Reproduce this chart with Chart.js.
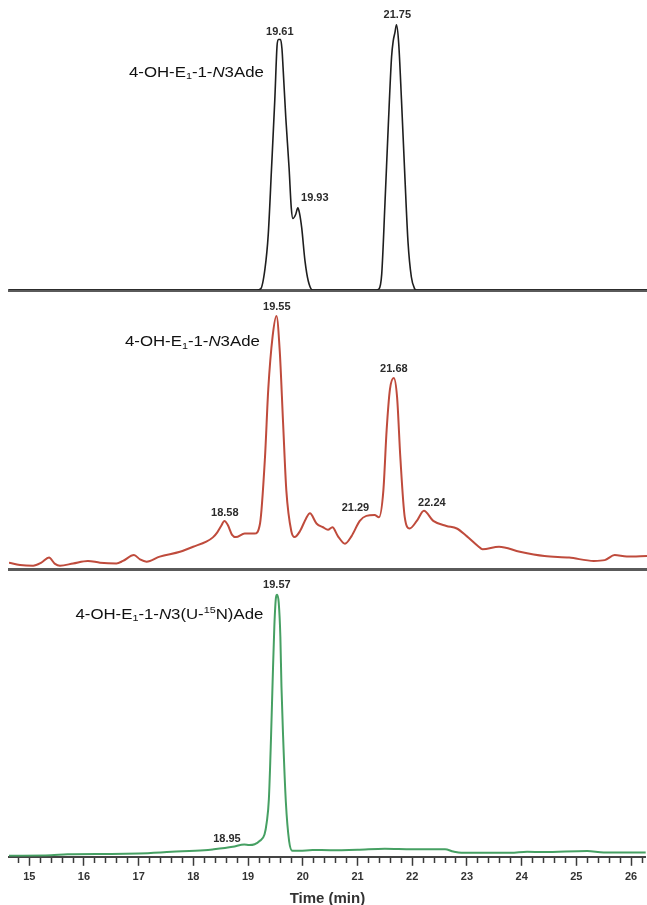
<!DOCTYPE html>
<html><head><meta charset="utf-8">
<script src="https://cdn.jsdelivr.net/npm/chart.js@4.4.1/dist/chart.umd.min.js"></script>
<style>
html,body{margin:0;padding:0;background:#fff;width:647px;height:905px;overflow:hidden;}
.panel{position:absolute;left:0;width:647px;}
#p1{top:0;height:292px;}
#p2{top:278px;height:293px;}
#p3{top:578px;height:330px;}
</style></head><body>
<div class="panel" id="p1"><canvas id="k1"></canvas></div>
<div class="panel" id="p2"><canvas id="k2"></canvas></div>
<div class="panel" id="p3"><canvas id="k3"></canvas></div>
<script>
// ---- data (time in min, relative intensity %) ----
const timeMin = 14.63, timeMax = 26.27;
const majorTicks = [15,16,17,18,19,20,21,22,23,24,25,26];

const topTime   = [14.63,19.15,19.22,19.30,19.36,19.42,19.48,19.52,19.545,19.585,19.61,19.63,19.68,19.74,19.78,19.81,19.86,19.90,19.93,19.97,20.03,20.09,20.17,21.33,21.38,21.43,21.49,21.55,21.61,21.64,21.67,21.70,21.74,21.79,21.85,21.91,21.97,22.03,22.06,26.27];
const topSignal = [0,0,0.4,8,21,46,72,92,94.5,94.5,91,84,65,46,31,27,28.5,31,29,23.5,11,3.4,0,0,0.4,6,33,62,88,94,97,100,93,72,44,18,5,0.5,0,0];

const midTime   = [14.63,14.83,15.07,15.22,15.36,15.47,15.56,15.80,16.07,16.29,16.59,16.71,16.91,17.02,17.14,17.38,17.75,17.99,18.23,18.35,18.43,18.50,18.56,18.62,18.70,18.77,18.93,19.11,19.21,19.30,19.36,19.44,19.51,19.57,19.63,19.69,19.78,19.84,19.94,20.05,20.12,20.24,20.36,20.45,20.53,20.63,20.76,20.88,21.03,21.15,21.30,21.38,21.46,21.52,21.58,21.65,21.71,21.77,21.85,21.94,22.07,22.20,22.37,22.61,22.80,22.98,23.19,23.27,23.57,23.95,24.40,24.85,25.30,25.50,25.68,25.90,26.27];
const midSignal = [2.5,1.6,1.3,2.5,4.5,2.0,1.3,2.2,3.2,2.5,2.2,3.2,5.5,3.8,2.9,4.9,6.8,8.8,10.8,12.5,14.5,17,19,17.5,13.5,12.6,14,14,18,44,71,92,100,86,58,31,15,12.6,15,20,22,18,16.5,15.5,16.5,13,10,13,19,21,21.3,20.5,31,55,71,75.5,68,44,20.5,16,19,23,19,17,16,13,9,7.8,8.8,6.8,5.1,4.5,3.2,3.5,5.5,4.9,5.1];

const botTime   = [14.63,15.40,15.70,16.50,17.00,17.60,18.20,18.35,18.72,18.93,19.02,19.12,19.21,19.30,19.34,19.38,19.42,19.45,19.48,19.51,19.53,19.56,19.59,19.61,19.64,19.69,19.75,19.81,19.94,20.18,20.50,21.00,21.50,22.00,22.60,22.75,22.90,23.80,24.10,24.40,25.20,25.50,26.27];
const botSignal = [0.4,0.6,1.0,1.1,1.3,1.9,2.5,2.8,3.8,4.7,4.5,4.8,6,8.5,13,22,46,68,88,99,100,97,84,65,46,21,6,2.3,2.3,2.6,2.5,2.7,3.1,2.9,2.9,2.0,1.5,1.5,1.9,1.8,2.2,1.6,1.6];

// peak labels: text, time, intensity (label centre)
const topLabelText = ['19.61','19.93','21.75'];
const topLabelTime = [19.571,20.21,21.715];
const topLabelVal  = [97.4,34.7,103.8];
const midLabelText = ['18.58','19.55','21.29','21.68','22.24'];
const midLabelTime = [18.568,19.516,20.951,21.652,22.345];
const midLabelVal  = [22.3,103.6,24.3,79.1,26.1];
const botLabelText = ['19.57','18.95'];
const botLabelTime = [19.526,18.613];
const botLabelVal  = [103.8,6.9];

// compound names (segments), anchored right edge at time / intensity
const nameN3Ade = [{s:'4-OH-E'},{s:'1',sub:true},{s:'-1-'},{s:'N',it:true},{s:'3Ade'}];
const nameN3U15N = [{s:'4-OH-E'},{s:'1',sub:true},{s:'-1-'},{s:'N',it:true},{s:'3(U-'},{s:'15',sup:true},{s:'N)Ade'}];

// ---- drawing helpers ----
const FAM = "Arial, 'Liberation Sans', sans-serif";
function fontFor(p){
  if (p.sub || p.sup) return '9px ' + FAM;
  if (p.it) return 'italic 14px ' + FAM;
  return '14px ' + FAM;
}
function drawName(ctx, parts, xr, ym){
  const SX = 1.2;
  let w = 0;
  const widths = parts.map(p => { ctx.font = fontFor(p); const m = ctx.measureText(p.s).width; w += m; return m; });
  ctx.save();
  ctx.translate(xr - w*SX, ym);
  ctx.scale(SX, 1);
  ctx.textAlign = 'left'; ctx.textBaseline = 'middle'; ctx.fillStyle = '#111';
  let x = 0;
  parts.forEach((p,i) => {
    ctx.font = fontFor(p);
    ctx.fillText(p.s, x, p.sub ? 4 : (p.sup ? -4 : 0));
    x += widths[i];
  });
  ctx.restore();
}
const textPlugin = {
  id: 'peakText',
  afterDatasetsDraw(chart, args, opts){
    const ctx = chart.ctx, xs = chart.scales.x, ys = chart.scales.y;
    ctx.save();
    ctx.font = 'bold 11px ' + FAM; ctx.fillStyle = '#2b2b2b';
    ctx.textAlign = 'center'; ctx.textBaseline = 'middle';
    opts.text.forEach((t,i) => ctx.fillText(t, xs.getPixelForValue(opts.time[i]), ys.getPixelForValue(opts.val[i])));
    ctx.restore();
    if (opts.name) drawName(ctx, opts.name, xs.getPixelForValue(opts.nameTime), ys.getPixelForValue(opts.nameVal));
  }
};

function pts(t, v){ return t.map((x,i) => ({x, y: v[i]})); }

function makeChart(id, t, v, color, width, yMax, labels, name, nameTime, nameVal, bottomAxis){
  const xScale = bottomAxis ? {
    type:'linear', min: timeMin, max: timeMax,
    border:{display:true, color:'#444', width:2},
    grid:{display:true, drawOnChartArea:false, drawTicks:true, tickLength:9, tickColor:'#3a3a3a', tickWidth:1.5,
      tickBorderDash: c => (c.tick && majorTicks.includes(Math.round(c.tick.value*10)/10)) ? [] : [5,30]},
    ticks:{stepSize:0.2, includeBounds:false, autoSkip:false, maxRotation:0, padding:5, color:'#333',
      font:{family:FAM, size:11, weight:'bold'},
      callback: val => { const r = Math.round(val*10)/10; return majorTicks.includes(r) ? String(r) : ''; }},
    title:{display:true, text:'Time (min)', color:'#333', font:{family:FAM, size:15, weight:'bold'}, padding:{top:1,bottom:0}}
  } : {
    type:'linear', min: timeMin, max: timeMax,
    border:{display:true, color:'#5a5a5a', width:3},
    grid:{display:false, drawTicks:false},
    ticks:{display:false}
  };
  return new Chart(document.getElementById(id), {
    type:'line',
    data:{datasets:[{data: pts(t,v), borderColor: color, borderWidth: width, pointRadius:0, fill:false, cubicInterpolationMode:'monotone'}]},
    options:{
      responsive:true, maintainAspectRatio:false, animation:false,
      layout:{padding:{left:9, right:0, top:0, bottom: bottomAxis ? 0 : 2}},
      plugins:{legend:{display:false}, tooltip:{enabled:false},
        peakText:{text:labels[0], time:labels[1], val:labels[2], name, nameTime, nameVal}},
      scales:{ x: xScale, y:{display:false, min:0, max:yMax} }
    },
    plugins:[textPlugin]
  });
}

makeChart('k1', topTime, topSignal, '#1e1e1e', 1.6, 109.4, [topLabelText, topLabelTime, topLabelVal], nameN3Ade, 19.279, 81.9, false);
makeChart('k2', midTime, midSignal, '#bf4b3c', 2, 115.0, [midLabelText, midLabelTime, midLabelVal], nameN3Ade, 19.206, 89.7, false);
makeChart('k3', botTime, botSignal, '#46a063', 2, 106.4, [botLabelText, botLabelTime, botLabelVal], nameN3U15N, 19.279, 92.4, true);
</script>
</body></html>
